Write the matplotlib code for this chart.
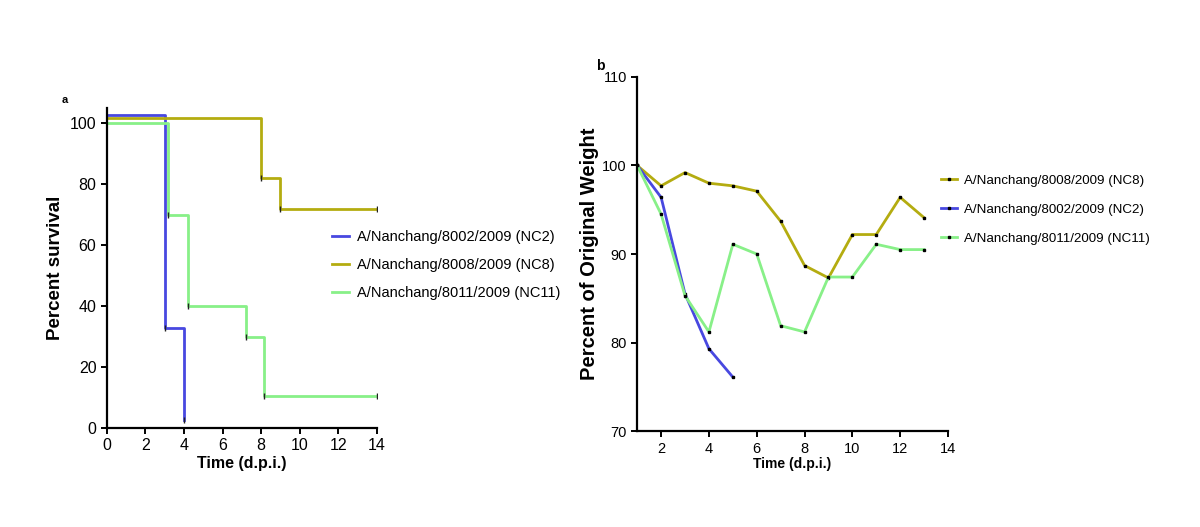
import matplotlib.pyplot as plt
import numpy as np

plt.rcParams['font.family'] = ['Liberation Sans', 'DejaVu Sans']

# panel a: Kaplan-Meier survival (step points)
nc2_t = [0, 3, 4]
nc2_s = [102.7, 32.7, 2.6]
nc8_t = [0, 8, 9, 14]
nc8_s = [101.8, 82.0, 71.9, 71.9]
nc11_t = [0, 3.15, 4.2, 7.2, 8.15, 14]
nc11_s = [100, 70, 40, 30, 10.5, 10.5]

# panel b: weight change
days = np.arange(1, 14)
w_nc8 = [100, 97.7, 99.2, 98.0, 97.7, 97.1, 93.7, 88.7, 87.3, 92.2, 92.2, 96.4, 94.1]
w_nc2 = [100, 96.4, 85.5, 79.3, 76.1]
w_nc11 = [100, 94.5, 85.3, 81.2, 91.1, 90.0, 81.9, 81.2, 87.4, 87.4, 91.1, 90.5, 90.5]

c_blue = '#4848e0'
c_olive = '#b4ac10'
c_green = '#88f088'

fig = plt.figure(figsize=(12, 5.27), dpi=100)

def style(ax):
    for s in ['top', 'right']:
        ax.spines[s].set_visible(False)
    for s in ['left', 'bottom']:
        ax.spines[s].set_linewidth(1.6)
    ax.tick_params(width=1.4, length=4)

# ---- panel a
ax1 = fig.add_axes([0.089, 0.188, 0.225, 0.607])
ax1.step(nc2_t, nc2_s, where='post', color=c_blue, lw=2, label='A/Nanchang/8002/2009 (NC2)')
ax1.step(nc8_t, nc8_s, where='post', color=c_olive, lw=2, label='A/Nanchang/8008/2009 (NC8)')
ax1.step(nc11_t, nc11_s, where='post', color=c_green, lw=2, label='A/Nanchang/8011/2009 (NC11)')
# small tick marks at the steps
for t, s in [(nc2_t, nc2_s), (nc8_t, nc8_s), (nc11_t, nc11_s)]:
    ax1.plot(t[1:], s[1:], ls='none', marker='|', ms=4, mew=1, color='#222222')
ax1.set_xlim(0, 14)
ax1.set_ylim(0, 105)
ax1.set_xticks(range(0, 15, 2))
ax1.set_yticks(range(0, 101, 20))
ax1.tick_params(labelsize=11.5)
ax1.set_xlabel('Time (d.p.i.)', fontsize=11.5, fontweight='bold', labelpad=2)
ax1.set_ylabel('Percent survival', fontsize=13.5, fontweight='bold', labelpad=4)
style(ax1)
ax1.legend(loc='center left', bbox_to_anchor=(0.785, 0.51), frameon=False, fontsize=10.5,
           handlelength=1.2, handletextpad=0.5, labelspacing=0.95)
fig.text(0.051, 0.805, 'a', fontsize=8, fontweight='bold')

# ---- panel b
ax2 = fig.add_axes([0.531, 0.182, 0.259, 0.672])
ax2.plot(days, w_nc8, color=c_olive, lw=2, marker='s', ms=1.5, mfc='k', mec='k',
         label='A/Nanchang/8008/2009 (NC8)')
ax2.plot(days[:len(w_nc2)], w_nc2, color=c_blue, lw=2, marker='s', ms=1.5, mfc='k', mec='k',
         label='A/Nanchang/8002/2009 (NC2)')
ax2.plot(days, w_nc11, color=c_green, lw=2, marker='s', ms=1.5, mfc='k', mec='k',
         label='A/Nanchang/8011/2009 (NC11)')
ax2.set_xlim(1, 14)
ax2.set_ylim(70, 110)
ax2.set_xticks(range(2, 15, 2))
ax2.set_yticks(range(70, 111, 10))
ax2.tick_params(labelsize=10.5)
ax2.set_xlabel('Time (d.p.i.)', fontsize=10, fontweight='bold', labelpad=1)
ax2.set_ylabel('Percent of Original Weight', fontsize=14.5, fontweight='bold', labelpad=2)
style(ax2)
ax2.legend(loc='center left', bbox_to_anchor=(0.94, 0.625), frameon=False, fontsize=9.6,
           handlelength=1.2, handletextpad=0.5, labelspacing=1.25)
fig.text(0.497, 0.868, 'b', fontsize=10, fontweight='bold')

fig.savefig('out.png', dpi=100)
